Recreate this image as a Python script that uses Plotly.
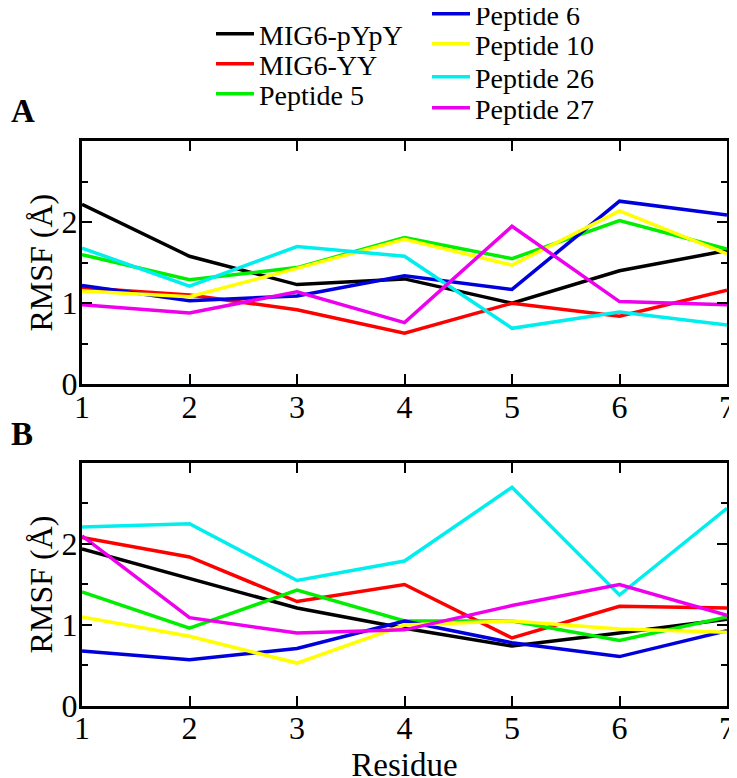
import plotly.graph_objects as go

residues = [1, 2, 3, 4, 5, 6, 7]
series_names = ["MIG6-pYpY", "MIG6-YY", "Peptide 5", "Peptide 6", "Peptide 10", "Peptide 26", "Peptide 27"]
colors = ["#000000", "#ff0000", "#00ee00", "#0000dd", "#ffff00", "#00eeee", "#ee00ee"]

# Panel A RMSF values
a_mig6_pypy = [2.22, 1.58, 1.23, 1.30, 1.00, 1.40, 1.65]
a_mig6_yy = [1.19, 1.10, 0.92, 0.63, 1.00, 0.84, 1.16]
a_pep5 = [1.60, 1.29, 1.44, 1.81, 1.55, 2.02, 1.67]
a_pep6 = [1.22, 1.03, 1.09, 1.34, 1.17, 2.26, 2.09]
a_pep10 = [1.15, 1.08, 1.43, 1.79, 1.47, 2.14, 1.61]
a_pep26 = [1.68, 1.21, 1.70, 1.58, 0.69, 0.89, 0.73]
a_pep27 = [0.98, 0.88, 1.14, 0.76, 1.95, 1.02, 0.98]

# Panel B RMSF values
b_mig6_pypy = [1.94, 1.57, 1.21, 0.96, 0.74, 0.90, 1.07]
b_mig6_yy = [2.08, 1.84, 1.29, 1.50, 0.84, 1.23, 1.21]
b_pep5 = [1.41, 0.96, 1.43, 1.05, 1.05, 0.81, 1.10]
b_pep6 = [0.68, 0.57, 0.71, 1.05, 0.78, 0.61, 0.93]
b_pep10 = [1.10, 0.86, 0.53, 1.00, 1.05, 0.95, 0.91]
b_pep26 = [2.21, 2.25, 1.55, 1.79, 2.70, 1.37, 2.44]
b_pep27 = [2.10, 1.09, 0.90, 0.94, 1.24, 1.50, 1.12]

panel_a = [a_mig6_pypy, a_mig6_yy, a_pep5, a_pep6, a_pep10, a_pep26, a_pep27]
panel_b = [b_mig6_pypy, b_mig6_yy, b_pep5, b_pep6, b_pep10, b_pep26, b_pep27]

y_ticks = [0, 1, 2]
x_ticks = [1, 2, 3, 4, 5, 6, 7]

FONT = "Liberation Serif"

# legend placement (paper coords): two columns of single-item legends
legend_x = [0.2000, 0.2000, 0.2000, 0.5349, 0.5349, 0.5349, 0.5349]
legend_y = [1.1089, 1.0594, 1.0099, 1.1420, 1.0924, 1.0380, 0.9868]
legend_ids = ["legend", "legend2", "legend3", "legend4", "legend5", "legend6", "legend7"]

fig = go.Figure()
for i, (name, col) in enumerate(zip(series_names, colors)):
    fig.add_trace(go.Scatter(x=residues, y=panel_a[i], mode="lines", name=name,
                             line=dict(color=col, width=3.5), xaxis="x", yaxis="y",
                             legend=legend_ids[i], showlegend=True))
for i, (name, col) in enumerate(zip(series_names, colors)):
    fig.add_trace(go.Scatter(x=residues, y=panel_b[i], mode="lines", name=name,
                             line=dict(color=col, width=3.5), xaxis="x2", yaxis="y2",
                             showlegend=False))

axis_common = dict(showline=True, linecolor="black", linewidth=3, mirror="ticks",
                   ticks="inside", ticklen=10, tickwidth=2, tickcolor="black",
                   showgrid=False, zeroline=False, ticklabeloverflow="allow",
                   tickfont=dict(family=FONT, size=32, color="black"))

xa = dict(axis_common, range=[1, 7], tickvals=x_ticks, ticklabelstandoff=-8)
ya = dict(axis_common, range=[0, 3], tickvals=y_ticks, ticklabelstandoff=-5,
          minor=dict(ticks="inside", dtick=0.5, ticklen=6, tickwidth=2, tickcolor="black", showgrid=False),
          title=dict(text="RMSF (Å)", font=dict(family=FONT, size=32, color="black"), standoff=0))

layout_legends = {}
for i, lid in enumerate(legend_ids):
    layout_legends[lid] = dict(x=legend_x[i], y=legend_y[i], xanchor="left", yanchor="middle",
                               font=dict(family=FONT, size=28, color="black"),
                               bgcolor="rgba(0,0,0,0)", itemwidth=38)

fig.update_layout(
    width=729, height=778,
    margin=dict(l=74, r=10, t=92, b=80, autoexpand=False),
    paper_bgcolor="white", plot_bgcolor="white",
    font=dict(family=FONT, color="black"),
    xaxis=dict(xa, domain=[0, 1], anchor="y"),
    yaxis=dict(ya, domain=[0.531, 0.932], anchor="x"),
    xaxis2=dict(xa, domain=[0, 1], anchor="y2",
                title=dict(text="Residue", font=dict(family=FONT, size=33, color="black"), standoff=8)),
    yaxis2=dict(ya, domain=[0, 0.401], anchor="x2"),
    annotations=[
        dict(text="<b>A</b>", x=-0.113, y=(706 - 111) / 606, xref="paper", yref="paper",
             showarrow=False, xanchor="left", yanchor="middle",
             font=dict(family=FONT, size=33, color="black")),
        dict(text="<b>B</b>", x=-0.113, y=(706 - 434) / 606, xref="paper", yref="paper",
             showarrow=False, xanchor="left", yanchor="middle",
             font=dict(family=FONT, size=33, color="black")),
    ],
    **layout_legends,
)

fig.write_html("out.html")
